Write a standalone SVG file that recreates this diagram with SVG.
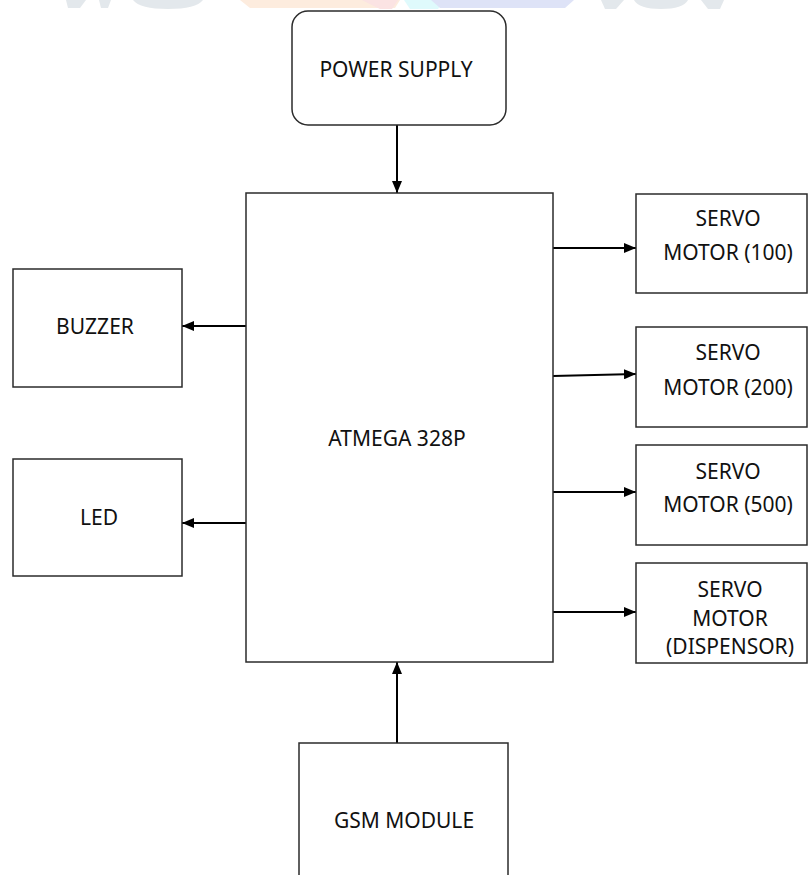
<svg xmlns="http://www.w3.org/2000/svg" width="808" height="875" viewBox="0 0 808 875">
<style>
.box{fill:#fff;stroke:#2b2b2b;stroke-width:1.5}
.t{font-family:"Noto Sans","Open Sans",sans-serif;font-size:21px;fill:#111;text-anchor:middle}
.c{stroke:#000;stroke-width:2;fill:none;marker-end:url(#ah)}
</style>
<defs>
<marker id="ah" viewBox="0 0 12 10" refX="12" refY="5" markerWidth="12" markerHeight="10" markerUnits="userSpaceOnUse" orient="auto">
<path d="M0,0 L12,5 L0,10 z" fill="#000"/>
</marker>
</defs>
<rect width="808" height="875" fill="#fff"/>
<g id="watermark" opacity="0.9">
<polygon points="66,0 86,0 80,8 68,8" fill="#e1e6ea"/>
<polygon points="99,0 111,0 108,8 101,8" fill="#e1e6ea"/>
<path d="M133,0 L203,0 Q196,9 168,9 Q140,9 133,0 z" fill="#e1e6ea"/>
<polygon points="240,0 400,0 395,8 250,8" fill="#fdeadb"/>
<polygon points="362,0 398,0 392,9 380,9" fill="#fbe0e0"/>
<polygon points="404,0 445,0 438,9 410,9" fill="#dcfafc"/>
<polygon points="431,0 574,0 565,8 440,8" fill="#dbe1f7"/>
<polygon points="601,0 624,0 616,9 605,9" fill="#e1e6ea"/>
<path d="M634,0 L688,0 Q683,9 661,9 Q639,9 634,0 z" fill="#e1e6ea"/>
<polygon points="701,0 724,0 720,9 708,9" fill="#e1e6ea"/>
</g>
<g id="connectors">
<line class="c" x1="397" y1="125" x2="397" y2="193"/>
<line class="c" x1="397" y1="743" x2="397" y2="662"/>
<line class="c" x1="246" y1="326" x2="182" y2="326"/>
<line class="c" x1="246" y1="523" x2="182" y2="523"/>
<line class="c" x1="553" y1="248" x2="636" y2="248"/>
<line class="c" x1="553" y1="376" x2="636" y2="374"/>
<line class="c" x1="553" y1="492" x2="636" y2="492"/>
<line class="c" x1="553" y1="612" x2="636" y2="612"/>
</g>
<g id="power"><rect class="box" x="292" y="11" width="214" height="114" rx="16"/><text class="t" x="396" y="77">POWER SUPPLY</text></g>
<g id="mcu"><rect class="box" x="246" y="193" width="307" height="469"/><text class="t" x="397" y="446">ATMEGA 328P</text></g>
<g id="buzzer"><rect class="box" x="13" y="269" width="169" height="118"/><text class="t" x="95" y="334">BUZZER</text></g>
<g id="led"><rect class="box" x="13" y="459" width="169" height="117"/><text class="t" x="99" y="525">LED</text></g>
<g id="servo100"><rect class="box" x="636" y="194" width="171" height="99"/><text class="t" x="728" y="226">SERVO</text><text class="t" x="728" y="260">MOTOR (100)</text></g>
<g id="servo200"><rect class="box" x="636" y="327" width="171" height="100"/><text class="t" x="728" y="360">SERVO</text><text class="t" x="728" y="395">MOTOR (200)</text></g>
<g id="servo500"><rect class="box" x="636" y="445" width="171" height="100"/><text class="t" x="728" y="479">SERVO</text><text class="t" x="728" y="512">MOTOR (500)</text></g>
<g id="servodisp"><rect class="box" x="636" y="563" width="171" height="100"/><text class="t" x="730" y="597">SERVO</text><text class="t" x="730" y="626">MOTOR</text><text class="t" x="730" y="654">(DISPENSOR)</text></g>
<g id="gsm"><rect class="box" x="299" y="743" width="209" height="140"/><text class="t" x="404" y="828">GSM MODULE</text></g>
</svg>
